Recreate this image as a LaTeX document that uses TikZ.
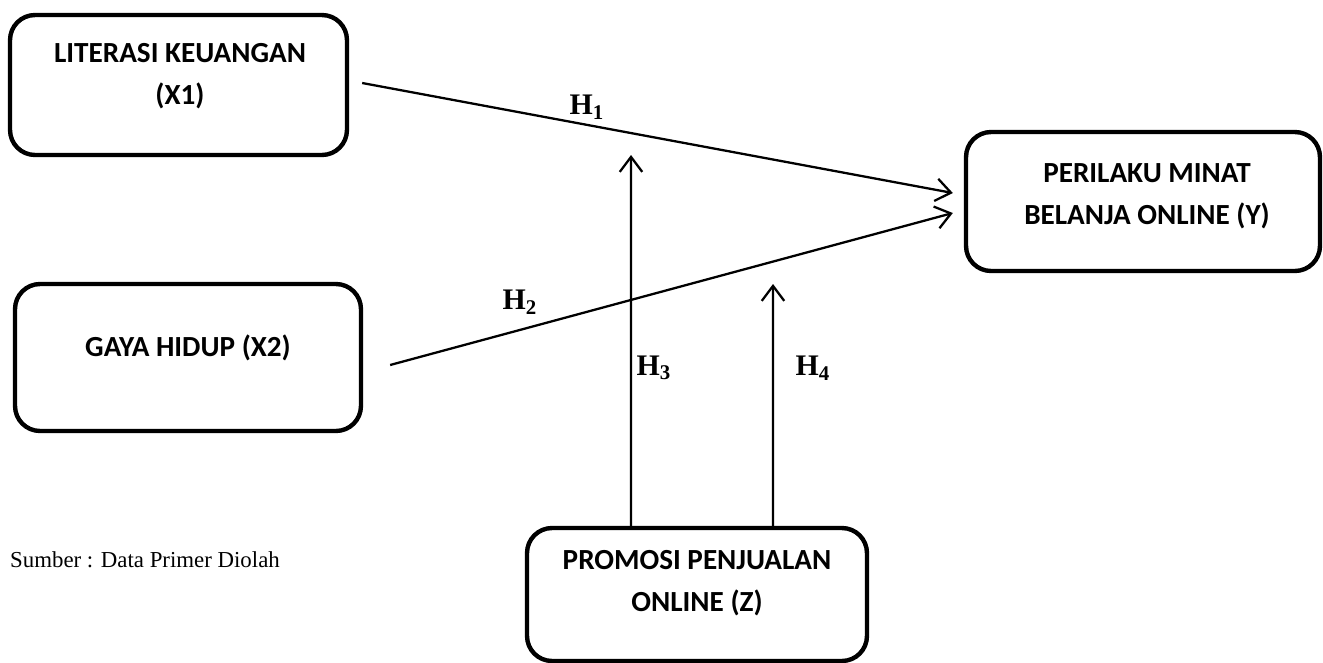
\documentclass[tikz,border=0pt]{standalone}
\usepackage{fontspec}
\setmainfont{Liberation Serif}
\newfontfamily\kotakfont{Carlito}
\usepackage{tikz}
\usetikzlibrary{arrows.meta, positioning}
\tikzstyle{kotak} = [draw,line width=2.5pt,rounded corners=0.5cm,minimum width=6.8cm,minimum height=2.8cm]
\tikzstyle{teks} = [font=\kotakfont\bfseries\fontsize{16.6}{24}\selectfont,align=center]
\tikzstyle{panah} = [-{Straight Barb[length=0.3cm,width=0.45cm]},line width=1.3pt]
\tikzstyle{hipo} = [font=\bfseries\fontsize{17}{20}\selectfont]

\begin{document}
\begin{tikzpicture}[x=0.02cm,y=-0.02cm]

	\useasboundingbox (0,0) rectangle (1323,663);

	% kotak variabel
	\node[kotak,minimum width=6.74cm] (x1) at (178.5,85) {};
	\node[teks] (x1t) at (180,76) {LITERASI KEUANGAN\\(X1)};

	\node[kotak,minimum width=6.92cm,minimum height=2.94cm] (x2) at (188,357.5) {};
	\node[teks] (x2t) at (188,348) {GAYA HIDUP (X2)};

	\node[kotak,minimum width=7.08cm,minimum height=2.78cm] (y) at (1143,201.5) {};
	\node[teks] (yt) at (1147,196) {PERILAKU MINAT\\BELANJA ONLINE (Y)};

	\node[kotak,minimum height=2.66cm] (z) at (697,594.5) {};
	\node[teks] (zt) at (697,583) {PROMOSI PENJUALAN\\ONLINE (Z)};

	\coordinate (m3) at (631,155);
	\coordinate (m4) at (773,284);

	% panah hipotesis
	\draw[panah] ([xshift=0.26cm,yshift=0.04cm]x1.east) -- ([xshift=-0.22cm,yshift=0.17cm]y.west);
	\draw[panah] ([xshift=0.54cm,yshift=-0.15cm]x2.east) -- ([xshift=-0.22cm,yshift=-0.23cm]y.west);
	\draw[panah] ([xshift=-1.32cm]z.north) -- (m3);
	\draw[panah] ([xshift=1.52cm]z.north) -- (m4);

	\node[hipo] (h1) at (587,107) {H\textsubscript{1}};
	\node[hipo] (h2) at (520,302) {H\textsubscript{2}};
	\node[hipo] (h3) at (654,368) {H\textsubscript{3}};
	\node[hipo] (h4) at (813,368) {H\textsubscript{4}};

	\node[anchor=base west,font=\fontsize{13}{15}\selectfont] (src) at (4,567) {Sumber : Data Primer Diolah};

\end{tikzpicture}
\end{document}
